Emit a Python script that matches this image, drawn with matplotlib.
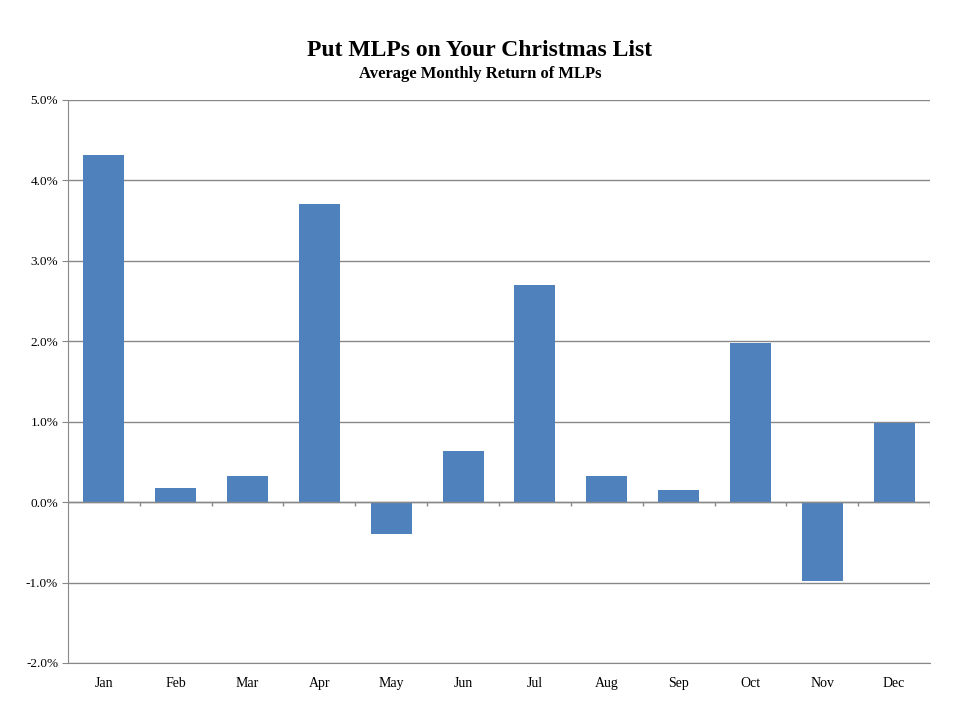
import numpy as np
import matplotlib.pyplot as plt
from matplotlib.ticker import FuncFormatter

months = ['Jan', 'Feb', 'Mar', 'Apr', 'May', 'Jun',
          'Jul', 'Aug', 'Sep', 'Oct', 'Nov', 'Dec']
returns = [4.32, 0.17, 0.32, 3.71, -0.40, 0.63,
           2.70, 0.32, 0.15, 1.98, -0.98, 0.98]
yticks = [-2, -1, 0, 1, 2, 3, 4, 5]

plt.rcParams['font.family'] = ['Liberation Serif', 'DejaVu Serif']

fig = plt.figure(figsize=(9.6, 7.2), dpi=100)
ax = fig.add_axes([0.0708, 0.0792, 0.898, 0.782])

x = np.arange(len(months))
ax.bar(x, returns, width=0.57, color='#4F81BD', zorder=3)

ax.set_xlim(-0.5, len(months) - 0.5)
ax.set_ylim(-2, 5)
ax.set_yticks(yticks)
ax.yaxis.set_major_formatter(FuncFormatter(lambda v, p: '%.1f%%' % v))
ax.grid(axis='y', color='#888888', linewidth=1, zorder=0)

# zero line with category tick marks, like excel's crossing axis
ax.axhline(0, color='#888888', linewidth=1, zorder=4)
bounds = np.arange(len(months) + 1) - 0.5
ax.vlines(bounds[1:], -0.05, 0, color='#888888', linewidth=1, zorder=4)

ax.set_xticks(x)
ax.set_xticklabels(months)
ax.tick_params(axis='x', length=0, pad=10, labelsize=10)
ax.tick_params(axis='y', length=4, color='#888888', labelsize=9.5, pad=3)

for s in ['top', 'right']:
    ax.spines[s].set_visible(False)
ax.spines['left'].set_color('#888888')
ax.spines['bottom'].set_color('#888888')

fig.text(0.5, 0.922, 'Put MLPs on Your Christmas List', ha='center',
         fontsize=17, fontweight='bold')
fig.text(0.5, 0.891, 'Average Monthly Return of MLPs', ha='center',
         fontsize=12, fontweight='bold')

fig.savefig('out.png', dpi=100)
